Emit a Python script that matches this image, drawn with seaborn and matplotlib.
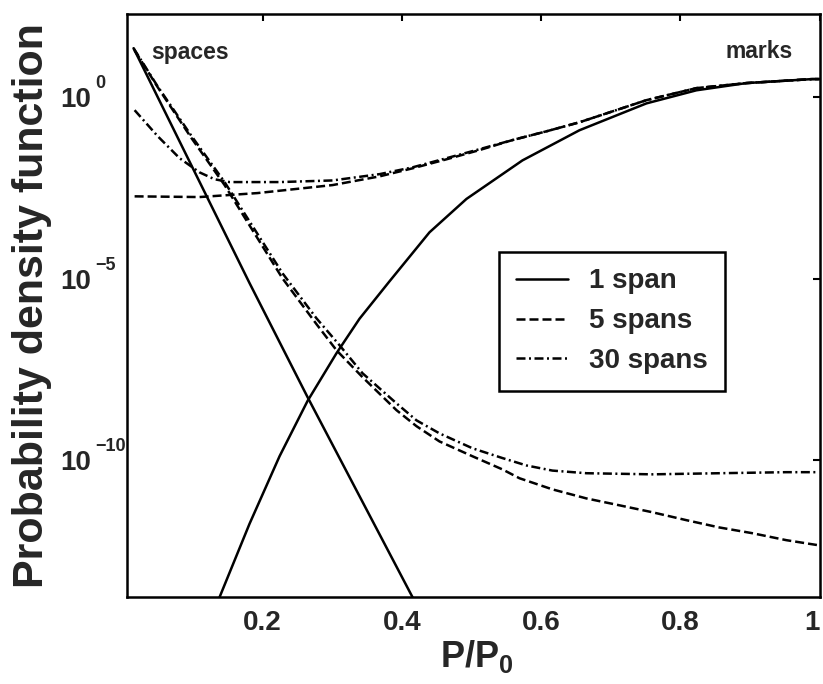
import numpy as np
import pandas as pd
import matplotlib
matplotlib.use("Agg")
import matplotlib.pyplot as plt
import matplotlib.transforms as mtransforms
from matplotlib.ticker import NullLocator
import seaborn as sns

# values (x = P/P0, y = pdf)
# 1 span
x_1_spaces = [0.0148, 0.1813, 0.2646, 0.4153, 0.43]
pdf_1_spaces = [22.4, 7.6e-6, 5.5e-9, 1.7e-14, 5.0e-15]

x_1_marks = [0.130, 0.1383, 0.1813, 0.2244, 0.2646, 0.3062, 0.3392, 0.3823,
             0.4397, 0.4928, 0.5732, 0.6550, 0.7512, 0.8229, 0.8947, 0.9894, 1.0]
pdf_1_marks = [6.3e-15, 1.7e-14, 1.78e-12, 1.29e-10, 4.3e-9, 8.9e-8, 7.9e-7, 8.5e-6,
               1.9e-4, 1.58e-3, 1.82e-2, 0.123, 0.676, 1.55, 2.45, 3.16, 3.16]

# 5 spans
x_5_spaces = [0.0163, 0.0493, 0.0981, 0.1455, 0.1813, 0.2287, 0.2775, 0.3062, 0.3435, 0.3923,
              0.4210, 0.4541, 0.5014, 0.5445, 0.5689, 0.6162, 0.6650, 0.7124, 0.7598, 0.8086,
              0.8560, 0.9033, 0.9521, 0.9971]
pdf_5_spaces = [19.5, 1.91, 7.4e-2, 3.8e-3, 2.95e-4, 1.02e-5, 5.6e-7, 1.07e-7, 1.95e-8, 2.4e-9,
                8.7e-10, 3.3e-10, 1.29e-10, 5.6e-11, 3.2e-11, 1.58e-11, 8.9e-12, 5.75e-12, 3.7e-12, 2.24e-12,
                1.41e-12, 9.8e-13, 6.3e-13, 4.6e-13]

x_5_marks = [0.0163, 0.1096, 0.1928, 0.3005, 0.3679, 0.4153, 0.4641, 0.5115, 0.5588, 0.6076,
             0.6550, 0.7024, 0.7512, 0.8229, 0.8947, 0.9894, 1.0]
pdf_5_marks = [1.86e-3, 1.78e-3, 2.29e-3, 3.8e-3, 6.6e-3, 1.10e-2, 1.95e-2, 3.5e-2, 6.6e-2, 0.115,
               0.204, 0.407, 0.83, 1.78, 2.45, 3.16, 3.16]

# 30 spans
x_30_spaces = [0.0148, 0.0493, 0.0981, 0.1455, 0.1813, 0.2287, 0.2775, 0.3105, 0.3435, 0.3923,
               0.4210, 0.4541, 0.5014, 0.5445, 0.5789, 0.6162, 0.6650, 0.7598, 0.8560, 0.9521, 0.9971]
pdf_30_spaces = [22.4, 2.0, 8.5e-2, 4.6e-3, 3.8e-4, 1.41e-5, 8.1e-7, 1.48e-7, 2.5e-8, 3.7e-9,
                 1.26e-9, 5.5e-10, 2.14e-10, 1.15e-10, 7.2e-11, 5.2e-11, 4.4e-11, 4.1e-11, 4.4e-11, 4.7e-11, 4.7e-11]

x_30_marks = [0.0163, 0.0493, 0.0809, 0.1096, 0.1311, 0.1526, 0.2244, 0.3005, 0.3679, 0.4153,
              0.4641, 0.5115, 0.5588, 0.6076, 0.6550, 0.7024, 0.7512, 0.8229, 0.8947, 0.9894, 1.0]
pdf_30_marks = [0.44, 8.5e-2, 2.09e-2, 8.5e-3, 5.5e-3, 4.6e-3, 4.6e-3, 5.1e-3, 7.6e-3, 1.17e-2,
                2.09e-2, 3.7e-2, 6.6e-2, 0.115, 0.204, 0.407, 0.83, 1.78, 2.45, 3.16, 3.16]

span_labels = ["1 span", "5 spans", "30 spans"]
x_ticks = [0.2, 0.4, 0.6, 0.8, 1.0]
x_ticklabels = ["0.2", "0.4", "0.6", "0.8", "1"]
y_ticks = [1e-10, 1e-5, 1e0]
y_exponents = ["\u221210", "\u22125", "0"]

curves = [
    ("1 span", "spaces", x_1_spaces, pdf_1_spaces),
    ("1 span", "marks", x_1_marks, pdf_1_marks),
    ("5 spans", "spaces", x_5_spaces, pdf_5_spaces),
    ("5 spans", "marks", x_5_marks, pdf_5_marks),
    ("30 spans", "spaces", x_30_spaces, pdf_30_spaces),
    ("30 spans", "marks", x_30_marks, pdf_30_marks),
]
frames = []
for spans, branch, xs, ys in curves:
    frames.append(pd.DataFrame({"P/P0": xs, "pdf": ys, "spans": spans,
                                "branch": spans + " " + branch}))
df = pd.concat(frames, ignore_index=True)

sns.set_style("white")
plt.rcParams["font.family"] = ["Liberation Sans", "DejaVu Sans"]
plt.rcParams["font.weight"] = "bold"
plt.rcParams["axes.labelweight"] = "bold"
plt.rcParams["mathtext.fontset"] = "custom"
plt.rcParams["mathtext.rm"] = "Liberation Sans:bold"
plt.rcParams["mathtext.it"] = "Liberation Sans:bold"
plt.rcParams["mathtext.bf"] = "Liberation Sans:bold"

fig = plt.figure(figsize=(8.23, 6.84), dpi=100)
ax = fig.add_axes([0.154, 0.127, 0.842, 0.853])
ax.set_yscale("log")

lw = 1.8
dashes = {"1 span": "", "5 spans": (3.6, 1.6), "30 spans": (3.6, 1.4, 0.8, 1.4)}
sns.lineplot(data=df, x="P/P0", y="pdf", style="spans", style_order=span_labels,
             units="branch", estimator=None, dashes=dashes, color="k", lw=lw, ax=ax)

ax.set_xlim(0.005, 1.0)
ax.set_ylim(1.7e-14, 2e2)
ax.set_xticks(x_ticks)
ax.set_xticklabels(x_ticklabels)
ax.get_xticklabels()[-1].set_horizontalalignment("right")
ax.set_yticks(y_ticks)
ax.set_yticklabels(["10"] * len(y_ticks), ha="left")
ax.yaxis.set_minor_locator(NullLocator())
ax.tick_params(axis="both", which="major", direction="in", top=True, right=True,
               length=5, width=1.5, color="k")
ax.tick_params(axis="x", labelsize=20, pad=9)
ax.tick_params(axis="y", labelsize=20, pad=48)
for s in ax.spines.values():
    s.set_linewidth(1.8)
    s.set_color("k")

# exponents of the log tick labels, MATLAB style
trans = mtransforms.blended_transform_factory(ax.transAxes, ax.transData)
trans = trans + mtransforms.ScaledTranslation(0, 6.5 / 72, fig.dpi_scale_trans)
for yt, ex in zip(y_ticks, y_exponents):
    ax.text(-0.046, yt, ex, transform=trans, fontsize=13, fontweight="bold",
            ha="left", va="baseline", clip_on=False)

ax.set_xlabel(r"$P/P_0$", fontsize=26)
ax.set_ylabel("Probability density function", fontsize=31, fontweight="bold")
ax.xaxis.set_label_coords(0.505, -0.07)
ax.yaxis.set_label_coords(-0.108, 0.5)

ax.text(0.036, 0.933, "spaces", transform=ax.transAxes, fontsize=16.5,
        fontweight="bold", ha="left", va="center")
ax.text(0.961, 0.935, "marks", transform=ax.transAxes, fontsize=16.5,
        fontweight="bold", ha="right", va="center")

old = ax.get_legend()
handles = old.legend_handles
labels = [t.get_text() for t in old.get_texts()]
for h in handles:
    h.set_color("k")
    h.set_linewidth(lw)
leg = ax.legend(handles, labels, loc="upper left", bbox_to_anchor=(0.537, 0.592),
                borderaxespad=0, frameon=True, fancybox=False, edgecolor="k", framealpha=1,
                prop={"size": 20, "weight": "bold"}, handlelength=1.9,
                labelspacing=0.5, borderpad=0.6, handletextpad=0.75)
leg.get_frame().set_linewidth(1.8)

fig.savefig("out.png", dpi=100)
